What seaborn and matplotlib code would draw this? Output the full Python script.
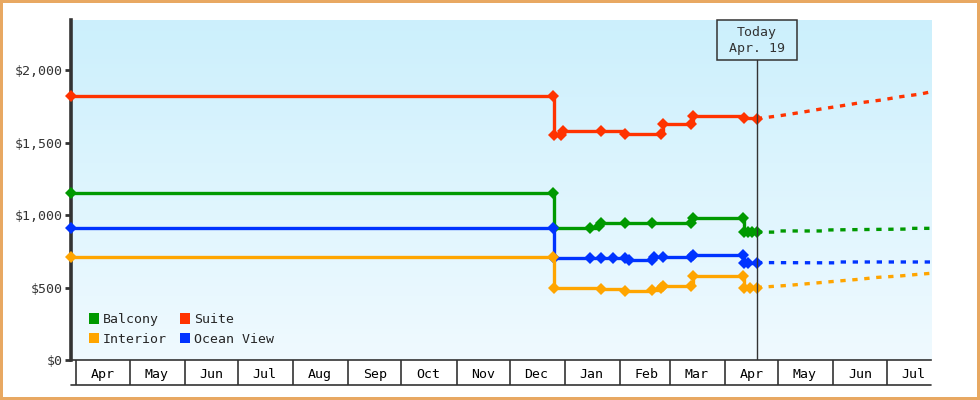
import numpy as np
import pandas as pd
import matplotlib
matplotlib.use("Agg")
import matplotlib.pyplot as plt
import matplotlib.dates as mdates
import matplotlib.transforms as mtransforms
from matplotlib.patches import Patch, Rectangle
from matplotlib.ticker import FuncFormatter
import seaborn as sns

# price history (step data)
suite_dates = ["2018-03-29", "2018-12-25", "2018-12-26", "2018-12-30", "2018-12-31", "2019-01-21",
               "2019-02-04", "2019-02-24", "2019-02-25", "2019-03-13", "2019-03-14", "2019-04-12", "2019-04-19"]
suite_prices = [1822, 1822, 1552, 1552, 1580, 1578, 1562, 1562, 1630, 1630, 1680, 1672, 1665]

balcony_dates = ["2018-03-29", "2018-12-25", "2018-12-26", "2019-01-15", "2019-01-20", "2019-01-21", "2019-02-04",
                 "2019-02-19", "2019-03-13", "2019-03-14", "2019-04-11", "2019-04-12", "2019-04-14", "2019-04-16", "2019-04-19"]
balcony_prices = [1152, 1152, 912, 912, 922, 943, 943, 947, 947, 980, 980, 880, 882, 882, 882]

ocean_dates = ["2018-03-29", "2018-12-25", "2018-12-26", "2019-01-15", "2019-01-21", "2019-01-28", "2019-02-04",
               "2019-02-06", "2019-02-19", "2019-02-20", "2019-02-25", "2019-03-13", "2019-03-14", "2019-04-11",
               "2019-04-12", "2019-04-14", "2019-04-19"]
ocean_prices = [908, 908, 706, 706, 706, 706, 701, 690, 690, 708, 708, 708, 724, 724, 667, 672, 672]

interior_dates = ["2018-03-29", "2018-12-25", "2018-12-26", "2019-01-21", "2019-02-04", "2019-02-19", "2019-02-24",
                  "2019-02-25", "2019-03-13", "2019-03-14", "2019-04-11", "2019-04-12", "2019-04-15", "2019-04-19"]
interior_prices = [708, 708, 494, 490, 478, 480, 494, 512, 512, 580, 580, 494, 494, 494]

# projections after today
suite_proj_dates = ["2019-04-19", "2019-04-25", "2019-05-02", "2019-05-14", "2019-05-25", "2019-06-05",
                    "2019-06-16", "2019-06-28", "2019-07-09", "2019-07-20", "2019-07-26"]
suite_proj = [1665, 1674, 1685, 1708, 1731, 1752, 1774, 1793, 1816, 1834, 1850]

balcony_proj_dates = ["2019-04-19", "2019-04-30", "2019-05-01", "2019-05-28", "2019-05-29", "2019-07-12",
                      "2019-07-13", "2019-07-26"]
balcony_proj = [882, 882, 890, 890, 897, 903, 908, 908]

ocean_proj_dates = ["2019-04-19", "2019-06-04", "2019-06-05", "2019-07-26"]
ocean_proj = [672, 670, 676, 676]

interior_proj_dates = ["2019-04-19", "2019-04-20", "2019-05-07", "2019-05-24", "2019-06-04", "2019-06-15",
                       "2019-06-26", "2019-07-08", "2019-07-19", "2019-07-26"]
interior_proj = [494, 501, 515, 533, 545, 556, 570, 579, 591, 598]

today = pd.Timestamp("2019-04-19")
x_start, x_end = pd.Timestamp("2018-03-29"), pd.Timestamp("2019-07-26")

colors = {"Balcony": "#009900", "Suite": "#ff3300", "Interior": "#ffa500", "Ocean View": "#0033ff"}
ink = "#333333"

sns.set_style("white")
plt.rcParams["font.family"] = ["DejaVu Sans Mono"]
plt.rcParams["font.size"] = 9.5

fig = plt.figure(figsize=(9.8, 4), dpi=100)
fig.patch.set_facecolor("white")
fig.patch.set_edgecolor("#e8a862")
fig.patch.set_linewidth(3)
ax = fig.add_axes([71 / 980, 0.1, 860 / 980, 0.85])

# gradient background
grad = np.linspace(0, 1, 256).reshape(-1, 1)
top_c = np.array([0.80, 0.94, 0.99])
bot_c = np.array([0.94, 0.98, 1.0])
img = top_c * (1 - grad[..., None]) + bot_c * grad[..., None]
img = np.repeat(img, 2, axis=1)
ax.imshow(img, extent=[0, 1, 0, 1], transform=ax.transAxes, aspect="auto", zorder=0)

series = [
    ("Suite", suite_dates, suite_prices, suite_proj_dates, suite_proj),
    ("Balcony", balcony_dates, balcony_prices, balcony_proj_dates, balcony_proj),
    ("Ocean View", ocean_dates, ocean_prices, ocean_proj_dates, ocean_proj),
    ("Interior", interior_dates, interior_prices, interior_proj_dates, interior_proj),
]

for name, d, p, pd_, pp in series:
    c = colors[name]
    df = pd.DataFrame({"date": pd.to_datetime(d), "price": p})
    sns.lineplot(data=df, x="date", y="price", ax=ax, color=c, lw=2.4, estimator=None,
                 drawstyle="steps-post", marker="D", markersize=6.5, mec=c, mew=0, zorder=4,
                 clip_on=False)
    dfp = pd.DataFrame({"date": pd.to_datetime(pd_), "price": pp})
    sns.lineplot(data=dfp, x="date", y="price", ax=ax, color=c, lw=2.4, estimator=None,
                 zorder=3).lines[-1].set_dashes((1.6, 2.0))

ax.set_xlim(x_start, x_end)
ax.set_ylim(0, 2345)
ax.set_xlabel("")
ax.set_ylabel("")

# today marker
ax.axvline(today, ymin=0, ymax=0.882, color=ink, lw=1, zorder=5)
trans = mtransforms.blended_transform_factory(ax.transData, ax.transAxes)
half = 22.5
ax.add_patch(Rectangle((mdates.date2num(today) - half, 0.882), 2 * half, 0.118, transform=trans,
                       fc="none", ec=ink, lw=1.1, clip_on=False, zorder=5))
ax.text(today, 0.941, "Today\nApr. 19", transform=trans, ha="center", va="center",
        color=ink, linespacing=1.3, zorder=5)

# spines
for s in ["top", "right"]:
    ax.spines[s].set_visible(False)
ax.spines["left"].set_color(ink)
ax.spines["left"].set_linewidth(2.6)
ax.spines["bottom"].set_color(ink)
ax.spines["bottom"].set_linewidth(1.2)

# y axis
ax.set_yticks([0, 500, 1000, 1500, 2000])
ax.yaxis.set_major_formatter(FuncFormatter(lambda v, _: f"${v:,.0f}"))
ax.tick_params(axis="y", direction="out", length=4, width=2, color=ink, labelcolor=ink, pad=2, left=True)

# x axis: month boxes
ax.xaxis.set_major_locator(mdates.MonthLocator())
ax.xaxis.set_major_formatter(plt.NullFormatter())
ax.xaxis.set_minor_locator(mdates.MonthLocator(bymonthday=16))
ax.xaxis.set_minor_formatter(mdates.DateFormatter("%b"))
ax.tick_params(axis="x", which="major", direction="out", length=18, width=1.2, color=ink, bottom=True)
ax.tick_params(axis="x", which="minor", length=0, pad=6, labelcolor="black", bottom=True)
ax.plot([0, 1], [-0.0735, -0.0735], transform=ax.transAxes, color=ink, lw=1.2, clip_on=False)

# legend
order = ["Balcony", "Interior", "Suite", "Ocean View"]
handles = [Patch(facecolor=colors[n], edgecolor="none", label=n) for n in order]
ax.legend(handles=handles, ncol=2, loc="lower left", bbox_to_anchor=(0.01, 0.015), frameon=False,
          handlelength=0.8, handleheight=0.8, handletextpad=0.25, columnspacing=1.0,
          labelspacing=0.5, borderaxespad=0.3)

fig.savefig("out.png", dpi=100, facecolor=fig.get_facecolor(), edgecolor=fig.get_edgecolor())
